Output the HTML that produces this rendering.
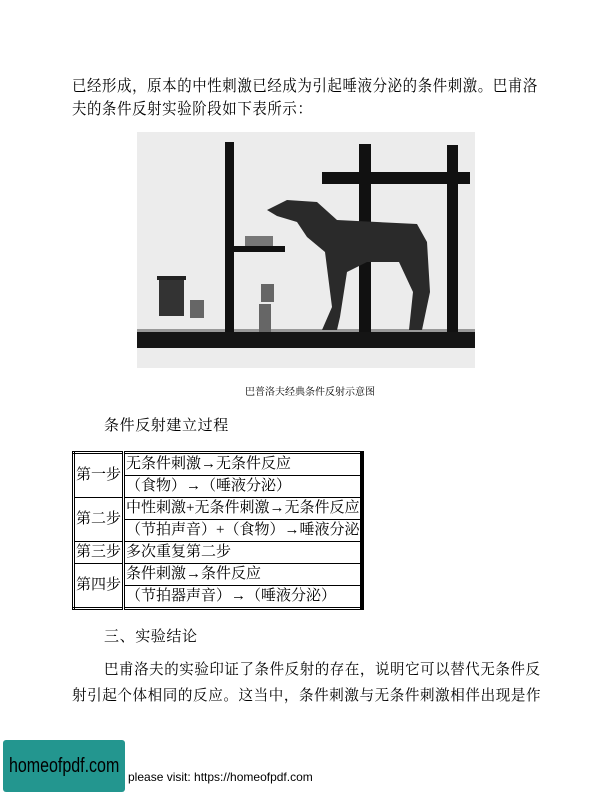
<!DOCTYPE html>
<html><head><meta charset="utf-8">
<style>
body{margin:0;width:612px;height:792px;background:#fff;position:relative;overflow:hidden;font-family:"Liberation Serif","Noto Serif CJK SC","Noto Sans CJK SC",serif;color:#000}
.t{position:absolute;white-space:nowrap;transform-origin:0 0}
table{position:absolute;left:72px;top:451px;width:291px;border-collapse:collapse;font-size:15px;border:3px double #000;border-right:4px solid #000}
td{border:1px solid #000;padding:0 1px;height:21px;line-height:21px;white-space:nowrap}
td.h{width:47px;border-right:3px double #000}
</style></head><body>
<div class="t" style="left:72px;top:73px;font-size:16px;letter-spacing:0.7px;transform:scaleX(0.9)">已经形成，原本的中性刺激已经成为引起唾液分泌的条件刺激。巴甫洛</div>
<div class="t" style="left:72px;top:96px;font-size:16px;letter-spacing:0.7px;transform:scaleX(0.9)">夫的条件反射实验阶段如下表所示：</div>

<svg style="position:absolute;left:137px;top:132px" width="338" height="236" viewBox="0 0 338 236">
<rect width="338" height="236" fill="#ececec"/>
<rect x="0" y="200" width="338" height="16" fill="#151515"/>
<rect x="0" y="197" width="338" height="3" fill="#999"/>
<rect x="88" y="10" width="9" height="190" fill="#111"/>
<rect x="96" y="114" width="52" height="6" fill="#111"/>
<rect x="108" y="104" width="28" height="10" fill="#777"/>
<rect x="185" y="40" width="148" height="12" fill="#111"/>
<rect x="222" y="12" width="12" height="188" fill="#111"/>
<rect x="310" y="13" width="11" height="187" fill="#111"/>
<path d="M130 78 L150 68 L180 70 L200 88 L240 90 L280 92 L290 110 L293 160 L285 198 L272 198 L276 160 L262 130 L230 130 L210 140 L203 185 L200 198 L185 198 L195 175 L188 120 L170 105 L160 90 L140 84 Z" fill="#2a2a2a"/>
<rect x="22" y="146" width="25" height="38" fill="#333"/>
<rect x="20" y="144" width="29" height="4" fill="#222"/>
<rect x="53" y="168" width="14" height="18" fill="#666"/>
<rect x="122" y="172" width="12" height="28" fill="#666"/>
<rect x="124" y="152" width="13" height="18" fill="#666"/>
</svg>
<div class="t" style="left:245px;top:383px;font-size:10px">巴普洛夫经典条件反射示意图</div>

<div class="t" style="left:104px;top:414px;font-size:15px;letter-spacing:0.6px">条件反射建立过程</div>

<table>
<tr><td class="h" rowspan="2">第一步</td><td>无条件刺激→无条件反应</td></tr>
<tr><td>（食物）→（唾液分泌）</td></tr>
<tr><td class="h" rowspan="2">第二步</td><td>中性刺激+无条件刺激→无条件反应</td></tr>
<tr><td>（节拍声音）+（食物）→唾液分泌</td></tr>
<tr><td class="h">第三步</td><td>多次重复第二步</td></tr>
<tr><td class="h" rowspan="2">第四步</td><td>条件刺激→条件反应</td></tr>
<tr><td>（节拍器声音）→（唾液分泌）</td></tr>
</table>

<div class="t" style="left:104px;top:625px;font-size:15px;letter-spacing:0.6px">三、实验结论</div>
<div class="t" style="left:104px;top:658px;font-size:15px;letter-spacing:0.6px;transform:scaleX(0.965)">巴甫洛夫的实验印证了条件反射的存在，说明它可以替代无条件反</div>
<div class="t" style="left:72px;top:684px;font-size:15px;letter-spacing:0.6px;transform:scaleX(0.97)">射引起个体相同的反应。这当中，条件刺激与无条件刺激相伴出现是作</div>

<div class="t" style="left:118px;top:770px;font-family:'Liberation Sans',sans-serif;font-size:12px">e please visit: https://homeofpdf.com</div>
<div style="position:absolute;left:3px;top:740px;width:122px;height:52px;background:#23968f;border-radius:3px"><span style="position:absolute;left:6px;top:15px;font-family:'Liberation Sans',sans-serif;font-size:20px;color:#000;transform:scaleX(0.8);transform-origin:0 0;white-space:nowrap">homeofpdf.com</span></div>
</body></html>
